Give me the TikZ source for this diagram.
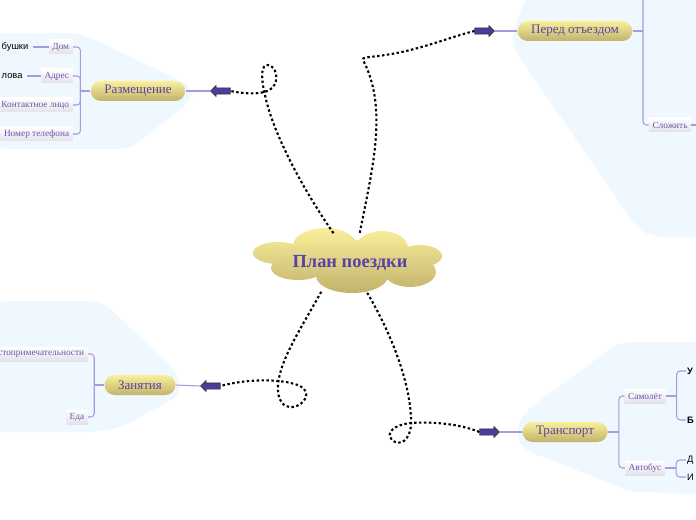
\documentclass[tikz,border=0pt]{standalone}
\usepackage{fontspec}
\setmainfont{Liberation Serif}
\setsansfont{Liberation Sans}
\usetikzlibrary{shapes.geometric, shapes.arrows}

\definecolor{skyfill}{RGB}{239,248,254}
\definecolor{goldtop}{RGB}{250,240,155}
\definecolor{goldbot}{RGB}{194,178,108}
\definecolor{inkviolet}{RGB}{88,66,168}
\definecolor{branchline}{RGB}{165,155,222}
\definecolor{arrowfill}{RGB}{76,60,156}
\definecolor{labelgray}{RGB}{226,226,232}

\begin{document}
\begin{tikzpicture}[x=0.02cm, y=-0.02cm,
    topic/.style={rounded corners=0.2cm, top color=goldtop, bottom color=goldbot, text=inkviolet,
      minimum height=0.4cm, inner xsep=0.27cm, inner ysep=0pt, font=\fontsize{7.4}{8}\selectfont},
    sub/.style={top color=white, bottom color=labelgray, text=inkviolet!90, minimum height=0.28cm,
      inner xsep=2pt, inner ysep=0pt, font=\fontsize{5.3}{6}\selectfont},
    leaf/.style={text=black, inner sep=0.5pt, font=\sffamily\fontsize{5.3}{6}\selectfont},
    branch/.style={draw=branchline, line width=0.6pt, rounded corners=2pt},
    trail/.style={line width=1.2pt, dash pattern=on 1.4pt off 1.4pt},
    pointer/.style={single arrow, fill=arrowfill, draw=black!80, line width=0.4pt, minimum height=0.39cm,
      single arrow head extend=0.045cm, single arrow head indent=0pt, inner sep=0.055cm}]
    \useasboundingbox (0,0) rectangle (696,520);
    \clip (0,0) rectangle (696,520);

    % light blue areas
    \fill[skyfill, rounded corners=6pt] (-5,33) -- (80,33) -- (192,86) -- (192,100) -- (130,149) -- (-5,149) -- cycle;
    \fill[skyfill, rounded corners=6pt] (527,-5) -- (513,30) -- (513,48) -- (637,228) -- (652,237) -- (705,237) -- (705,-5) -- cycle;
    \fill[skyfill, rounded corners=6pt] (-5,301) -- (102,301) -- (177,372) -- (182,394) -- (120,428) -- (95,432) -- (-5,432) -- cycle;
    \fill[skyfill, rounded corners=6pt] (620,342) -- (705,342) -- (705,494) -- (632,492) -- (520,448) -- (517,425) -- (527,410) -- cycle;

    % center cloud
    \shade[top color=goldtop, bottom color=goldbot]
      (325,246) ellipse [x radius=32, y radius=18]
      (382,248) ellipse [x radius=26, y radius=17]
      (278,253) ellipse [x radius=25, y radius=11]
      (420,256) ellipse [x radius=22, y radius=11]
      (298,268) ellipse [x radius=27, y radius=12]
      (352,276) ellipse [x radius=36, y radius=17]
      (410,272) ellipse [x radius=26, y radius=15]
      (350,260) ellipse [x radius=62, y radius=20];
    \node[ellipse, minimum width=3.6cm, minimum height=1.2cm, text=inkviolet,
      font=\bfseries\fontsize{10.5}{12}\selectfont] (plan) at (350,263) {План поездки};

    % topics
    \node[topic] (razm) at (138,91) {Размещение};
    \node[topic] (pered) at (575,31) {Перед отъездом};
    \node[topic] (zan) at (140,385) {Занятия};
    \node[topic] (trans) at (565,432) {Транспорт};

    % arrows
    \node[pointer, shape border rotate=180] (arrRazm) at (222,91) {};
    \node[pointer] (arrPered) at (483,31) {};
    \node[pointer, shape border rotate=180] (arrZan) at (212,386) {};
    \node[pointer] (arrTrans) at (488,432) {};

    \draw[trail] (plan.119) .. controls (300,185) and (272,130) .. (265,95)
      .. controls (260,75) and (262,64) .. (268,65)
      .. controls (276,66) and (280,80) .. (272,88)
      .. controls (266,94) and (250,95) .. (arrRazm.tail);
    \draw[trail] (plan.72) .. controls (372,170) and (388,110) .. (364,62)
      .. controls (360,56) and (368,58) .. (385,55)
      .. controls (420,50) and (450,37) .. (arrPered.tail);
    \draw[trail] (plan.225) .. controls (300,330) and (280,360) .. (278,385)
      .. controls (277,400) and (283,408) .. (293,407)
      .. controls (305,405) and (312,392) .. (300,386)
      .. controls (285,379) and (250,378) .. (arrZan.tail);
    \draw[trail] (plan.300) .. controls (395,340) and (412,390) .. (411,425)
      .. controls (410,440) and (400,447) .. (392,440)
      .. controls (385,432) and (395,425) .. (410,423)
      .. controls (440,421) and (465,426) .. (arrTrans.tail);

    \draw[branch] (arrRazm.tip) -- (razm.east);
    \draw[branch] (arrPered.tip) -- (pered.west);
    \draw[branch] (arrZan.tip) -- (zan.east);
    \draw[branch] (arrTrans.tip) -- (trans.west);

    % Размещение
    \node[sub, anchor=east] (dom) at (73,47) {Дом};
    \node[sub, anchor=east] (adres) at (73,76) {Адрес};
    \node[sub, anchor=east] (kontakt) at (73,105) {Контактное лицо};
    \node[sub, anchor=east] (nomer) at (73,134) {Номер телефона};
    \node[leaf, anchor=west] (babushki) at (0.5,47) {бушки};
    \node[leaf, anchor=west] (lova) at (0.5,76) {лова};
    \draw[branch] (razm.west) -- ++(-10,0) coordinate (rk);
    \foreach \n in {dom,adres,kontakt,nomer} \draw[branch] (rk) |- (\n.east);
    \draw[branch] (dom.west) -- ([xshift=2pt]babushki.east);
    \draw[branch] (adres.west) -- ([xshift=2pt]lova.east);

    % Перед отъездом
    \node[sub] (slozh) at (670,125) {Сложить};
    \coordinate (pk) at (643,-5);
    \draw[branch] (pered.east) -- (pered.east -| pk);
    \draw[branch] (pk) |- (slozh.west);
    \draw[branch] (slozh.east) -- ++(10,0);

    % Занятия
    \node[sub, anchor=east] (dost) at (88,354) {стопримечательности};
    \node[sub, anchor=east] (eda) at (88,417) {Еда};
    \draw[branch] (zan.west) -- ++(-10,0) coordinate (zk);
    \draw[branch] (zk) |- (dost.east);
    \draw[branch] (zk) |- (eda.east);

    % Транспорт
    \node[sub] (samolet) at (645,396) {Самолёт};
    \node[sub] (avtobus) at (645,468) {Автобус};
    \draw[branch] (trans.east) -- ++(11,0) coordinate (tk);
    \draw[branch] (tk) |- (samolet.west);
    \draw[branch] (tk) |- (avtobus.west);
    \node[leaf, anchor=west, font=\sffamily\bfseries\fontsize{5.3}{6}\selectfont] (u) at (686,371) {У};
    \node[leaf, anchor=west, font=\sffamily\bfseries\fontsize{5.3}{6}\selectfont] (b) at (686,420) {Б};
    \node[leaf, anchor=west] (d) at (686,460) {Д};
    \node[leaf, anchor=west] (i) at (686,477) {И};
    \draw[branch] (samolet.east) -- ++(11,0) coordinate (sk);
    \draw[branch] (sk) |- (u.west);
    \draw[branch] (sk) |- (b.west);
    \draw[branch] (avtobus.east) -- ++(11,0) coordinate (ak);
    \draw[branch] (ak) |- (d.west);
    \draw[branch] (ak) |- (i.west);
\end{tikzpicture}
\end{document}
